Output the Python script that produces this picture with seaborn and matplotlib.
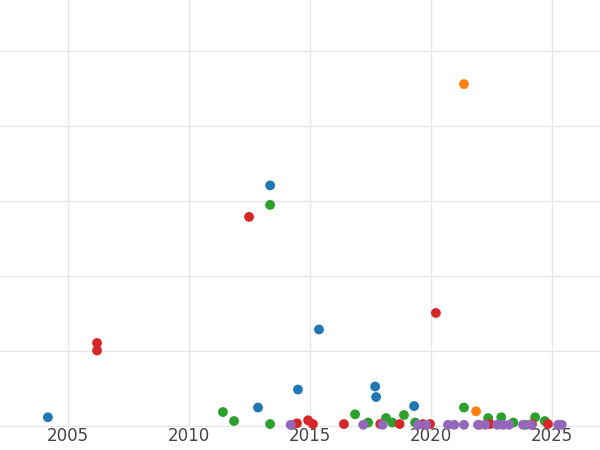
import matplotlib
matplotlib.use("Agg")
import matplotlib.pyplot as plt
import seaborn as sns
import pandas as pd

blue_x = [2004.17, 2013.35, 2012.85, 2014.5, 2015.37, 2017.69, 2017.73, 2019.3]
blue_y = [12, 321, 25, 49, 129, 53, 39, 27]
orange_x = [2021.36, 2021.86, 2022.0]
orange_y = [456, 20, 2]
green_x = [2011.4, 2011.86, 2013.35, 2013.35, 2016.86, 2017.4, 2018.14, 2018.4, 2018.88, 2019.34,
           2021.36, 2022.36, 2022.9, 2023.4, 2024.3, 2024.7, 2023.9]
green_y = [19, 7, 295, 3, 16, 5, 11, 5, 15, 5, 25, 11, 12, 5, 12, 7, 2]
red_x = [2006.2, 2006.2, 2012.48, 2014.46, 2014.92, 2015.12, 2016.4, 2017.9, 2018.7, 2019.67,
         2020.2, 2019.96, 2022.44, 2024.17, 2024.83]
red_y = [111, 101, 279, 4, 8, 3, 3, 3, 3, 3, 151, 3, 3, 3, 3]
purple_x = [2014.2, 2017.2, 2018.0, 2019.47, 2019.8, 2020.7, 2020.96, 2021.36, 2021.94, 2022.23,
            2022.73, 2022.98, 2023.22, 2023.8, 2024.13, 2025.25, 2025.4]
purple_y = [2] * 17

rows = []
for name, xs, ys in [("a", blue_x, blue_y), ("b", orange_x, orange_y), ("c", green_x, green_y),
                     ("d", red_x, red_y), ("e", purple_x, purple_y)]:
    for x, y in zip(xs, ys):
        rows.append({"x": x, "y": y, "s": name})
df = pd.DataFrame(rows)

sns.set_theme(style="whitegrid")
fig = plt.figure(figsize=(6, 4.5), dpi=100)
ax = fig.add_axes([0, 0.051, 1, 0.949])
pal = ["#1f77b4", "#ff7f0e", "#2ca02c", "#d62728", "#9467bd"]
sns.scatterplot(data=df, x="x", y="y", hue="s", palette=pal, s=50, edgecolor="none",
                legend=False, ax=ax, clip_on=False)
ax.set_xlim(2002.19, 2026.98)
ax.set_ylim(-1, 568)
ax.set_xticks([2005, 2010, 2015, 2020, 2025])
ax.set_yticks([0, 100, 200, 300, 400, 500])
ax.set_yticklabels([])
ax.set_xlabel("")
ax.set_ylabel("")
ax.tick_params(axis="x", labelsize=12, colors="#444444", pad=0, length=0)
ax.tick_params(axis="y", length=0)
for sp in ax.spines.values():
    sp.set_visible(False)
ax.grid(color="#e6e6e6")
fig.savefig("out.png")
